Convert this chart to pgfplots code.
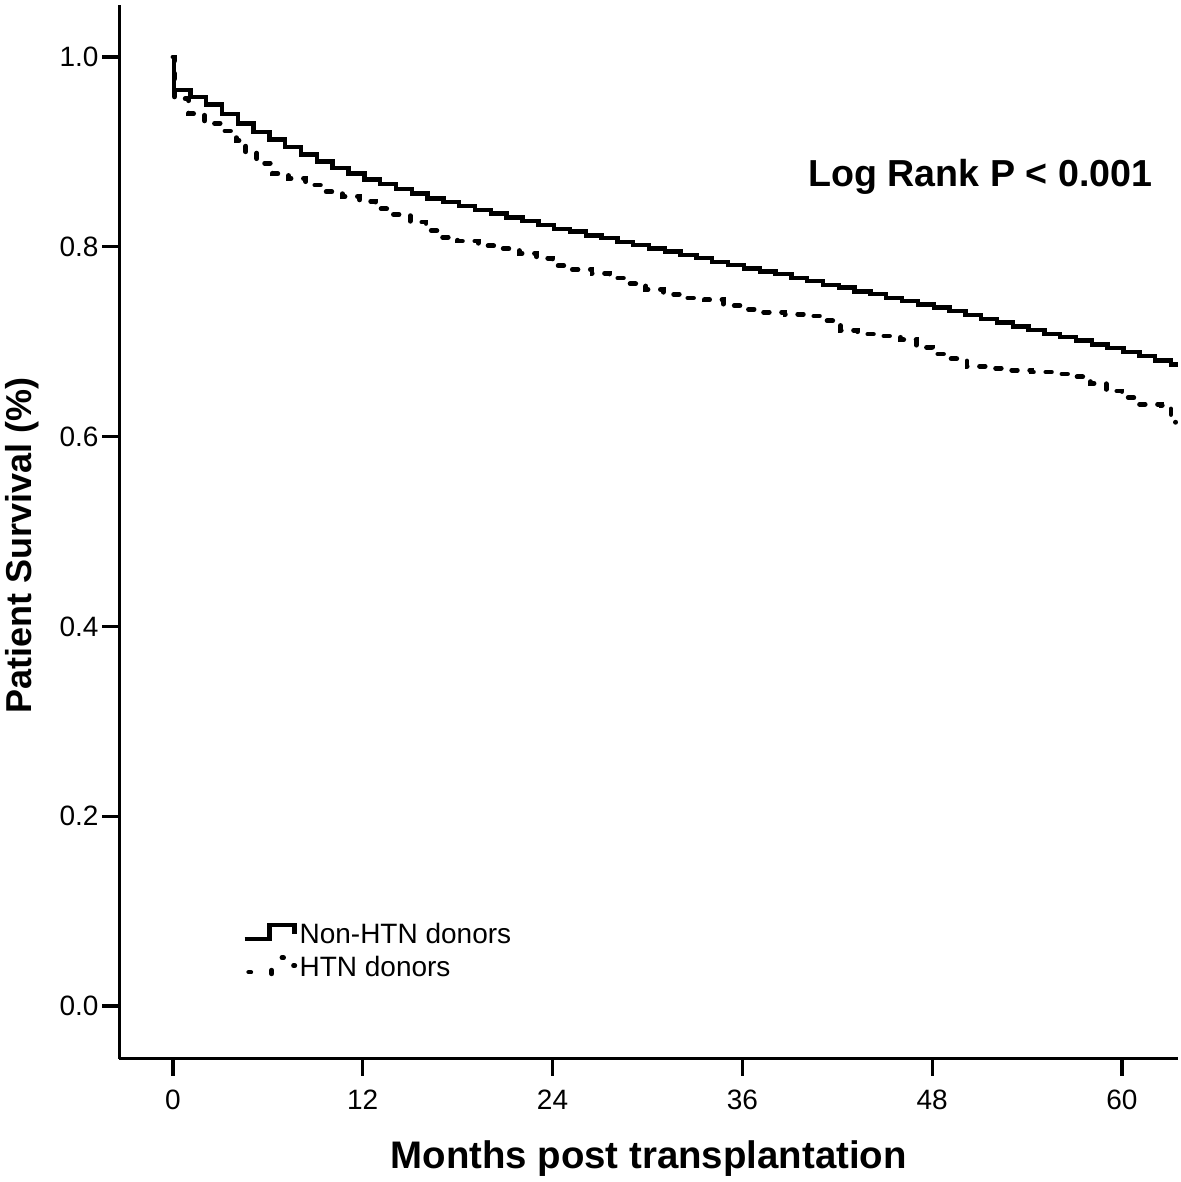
\documentclass[border=0pt]{standalone}
\usepackage{fontspec}
\setmainfont{Liberation Sans}
\usepackage{pgfplots}
\pgfplotsset{compat=1.18}

% Kaplan-Meier, non-hypertensive donors (solid)
\pgfplotstableread{
m s
0 1.000
0.05 0.965
1.1 0.958
2.1 0.950
3.1 0.940
4.1 0.930
5.1 0.921
6.1 0.913
7.1 0.905
8.1 0.897
9.1 0.890
10.1 0.883
11.1 0.877
12.1 0.871
13.1 0.866
14.1 0.861
15.1 0.856
16.1 0.851
17.1 0.847
18.1 0.843
19.1 0.839
20.1 0.835
21.1 0.831
22.1 0.827
23.1 0.823
24.1 0.819
25.1 0.816
26.1 0.812
27.1 0.809
28.1 0.805
29.1 0.802
30.1 0.798
31.1 0.795
32.1 0.791
33.1 0.788
34.1 0.784
35.1 0.781
36.1 0.777
37.1 0.774
38.1 0.771
39.1 0.767
40.1 0.764
41.1 0.760
42.1 0.757
43.1 0.753
44.1 0.750
45.1 0.746
46.1 0.743
47.1 0.739
48.1 0.736
49.1 0.732
50.1 0.728
51.1 0.724
52.1 0.720
53.1 0.716
54.1 0.712
55.1 0.708
56.1 0.705
57.1 0.701
58.1 0.697
59.1 0.693
60.1 0.689
61.1 0.685
62.1 0.680
63.1 0.676
63.4 0.673
}\nonhtn

% hypertensive donors (dotted)
\pgfplotstableread{
m s
0 1.000
0.1 0.956
1.0 0.940
2.0 0.930
3.0 0.922
4.0 0.912
4.6 0.899
5.3 0.888
6.3 0.877
7.3 0.872
8.4 0.865
9.5 0.858
10.7 0.853
11.8 0.848
12.8 0.840
13.9 0.834
15.0 0.826
16.0 0.817
17.0 0.810
18.0 0.806
19.3 0.801
20.5 0.798
21.9 0.793
23.0 0.788
24.0 0.780
25.2 0.776
26.5 0.772
27.6 0.767
28.8 0.761
29.9 0.755
31.0 0.750
32.3 0.746
33.6 0.744
34.8 0.738
36.0 0.734
37.3 0.731
38.7 0.729
40.0 0.727
41.2 0.722
42.2 0.712
43.3 0.708
44.7 0.706
46.0 0.702
47.0 0.694
48.0 0.687
49.2 0.682
50.2 0.674
51.6 0.672
53.0 0.670
54.3 0.668
55.6 0.666
57.0 0.663
58.0 0.656
59.0 0.648
60.0 0.641
61.0 0.634
62.5 0.633
63.1 0.617
63.4 0.615
}\htn

\begin{document}
\begin{tikzpicture}
\useasboundingbox (-29.875pt,-30.875pt) rectangle (265.375pt,264.625pt);
\begin{axis}[
    at={(0,0)}, anchor=south west,
    scale only axis,
    width=264.6pt, height=263.4pt,
    xmin=-3.38, xmax=63.54,
    ymin=-0.0553, ymax=1.0548,
    axis x line*=bottom, axis y line*=left,
    axis line style={-, line width=0.8pt},
    tick align=outside,
    major tick length=4.25pt,
    tick style={line width=0.8pt, black},
    xtick={0,12,24,36,48,60},
    ytick={0,0.2,0.4,0.6,0.8,1.0},
    /pgf/number format/assume math mode=true,
    ticklabel style={font=\fontsize{7}{8}\selectfont},
    yticklabel style={/pgf/number format/fixed, /pgf/number format/fixed zerofill,
        /pgf/number format/precision=1, inner sep=0.8pt},
    xlabel={Months post transplantation},
    ylabel={Patient Survival (\%)},
    xlabel style={font=\bfseries\fontsize{9.6}{11}\selectfont,
        at={(axis description cs:0.5,0)}, anchor=base, yshift=-27.5pt},
    ylabel style={font=\bfseries\fontsize{9}{11}\selectfont,
        at={(axis description cs:-0.0831,0.487)}, anchor=base},
    legend style={draw=none, fill=none, font=\fontsize{7}{8}\selectfont,
        at={(axis cs:3.58,0.0993)}, anchor=north west,
        cells={anchor=west}, row sep=0.5pt,
        nodes={inner sep=0.6pt}},
    clip=true,
]
\addplot[const plot, black, line width=1.1pt,
    legend image code/.code={
        \draw[line width=1.1pt, black] (0pt,-0.75pt) -- (6.25pt,-0.75pt) -- (6.25pt,2.75pt)
            -- (12.5pt,2.75pt) -- (12.5pt,0.5pt);}]
    table[x=m, y=s] {\nonhtn};
\addlegendentry{Non-HTN donors}
\addplot[const plot, black, line width=1.2pt, line cap=round,
    dash pattern=on 1.4pt off 3.1pt,
    legend image code/.code={
        \draw[line width=1.1pt, black, line cap=round] (1pt,-0.75pt) -- (1.6pt,-0.75pt);
        \draw[line width=1.1pt, black, line cap=round] (6.75pt,-1.2pt) -- (6.75pt,-0.2pt);
        \draw[line width=1.1pt, black, line cap=round] (9.3pt,2.9pt) -- (9.8pt,2.9pt);
        \draw[line width=1.1pt, black, line cap=round] (12.2pt,0.9pt) -- (12.6pt,0.9pt);}]
    table[x=m, y=s] {\htn};
\addlegendentry{HTN donors}
\node[font=\bfseries\fontsize{9.4}{11}\selectfont, anchor=base] at (axis cs:51.05,0.863) {Log Rank P < 0.001};
\end{axis}
\end{tikzpicture}
\end{document}
